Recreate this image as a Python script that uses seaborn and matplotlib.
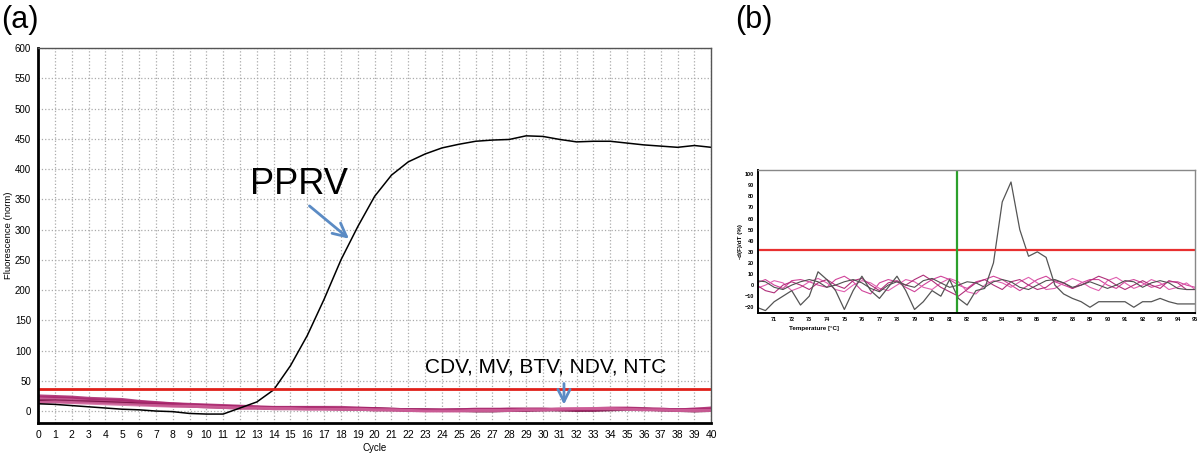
import numpy as np
import pandas as pd
import matplotlib
matplotlib.use("Agg")
import matplotlib.pyplot as plt
from matplotlib.ticker import MultipleLocator
import seaborn as sns

# ---- panel (a): amplification curves ----
cycles = list(range(41))
pprv = [12, 11, 9, 7, 5, 3, 2, 0, -1, -4, -5, -5, 5, 15, 35, 75, 125, 185, 250, 305,
        355, 390, 412, 425, 435, 441, 446, 448, 449, 455, 454, 449, 445, 446, 446, 443,
        440, 438, 436, 439, 436]
neg_names = ["CDV", "MV", "BTV", "NDV", "NTC"]
neg_values = [
    [18, 18, 17, 16, 15, 14, 12, 10, 9, 8, 7, 6, 5, 5, 4, 4, 4, 4, 3, 3, 2, 2, 1, 1, 1, 2, 2, 2, 3, 3, 3, 2, 2, 3, 4, 4, 3, 2, 2, 2, 2],
    [22, 22, 21, 19, 18, 17, 15, 13, 12, 10, 9, 8, 7, 6, 5, 5, 5, 4, 4, 3, 3, 2, 2, 1, 1, 1, 1, 1, 2, 2, 2, 3, 3, 4, 5, 5, 4, 3, 2, 3, 3],
    [16, 16, 15, 15, 14, 13, 12, 11, 10, 9, 8, 7, 6, 6, 5, 5, 5, 5, 4, 4, 4, 3, 2, 2, 1, 1, 0, 0, 1, 1, 2, 2, 1, 1, 2, 3, 3, 2, 1, 0, 1],
    [25, 24, 23, 21, 20, 19, 16, 14, 12, 11, 10, 9, 8, 7, 6, 6, 6, 6, 6, 5, 4, 3, 2, 2, 2, 2, 3, 3, 3, 3, 3, 3, 3, 3, 4, 4, 3, 3, 2, 3, 5],
    [14, 15, 14, 13, 12, 11, 10, 9, 8, 8, 7, 6, 5, 5, 4, 4, 3, 3, 3, 3, 2, 2, 1, 0, 0, 0, 1, 1, 1, 2, 2, 3, 4, 4, 4, 3, 2, 2, 1, 1, 1],
]
neg_colors = ["#8c1450", "#c2508c", "#7a1046", "#a8226a", "#d2669e"]
threshold_a = 37

# ---- panel (b): melt curves ----
temps = np.arange(70.0, 95.01, 0.5)
melt_pos = [-20, -23, -15, -10, -5, -18, -10, 12, 5, -5, -22, -5, 8, -5, -12, -2, 8, -5,
            -22, -15, -5, -10, 5, -12, -18, -5, -3, 20, 75, 93, 50, 26, 30, 25, 0, -8,
            -12, -15, -20, -15, -15, -15, -15, -20, -15, -15, -12, -15, -17, -17, -17]
melt_neg = [
    [2, 5, 0, -3, 4, 5, 3, 0, -2, 5, 8, 3, -5, -8, 2, 5, 3, -2, -6, 0, 5, 8, 5, 0, -3, 3,
     5, 8, 5, 0, -5, 0, 5, 8, 3, 0, -3, 2, 5, 5, 0, -3, 3, 5, 2, -2, 0, 3, 3, 0, -2],
    [-3, 0, 4, 2, -5, -2, 3, 6, 2, -4, -6, 0, 4, 2, -3, -5, 0, 5, 3, -2, -4, 2, 6, 3, -6,
     -8, 0, 4, 2, -2, 3, 7, 2, -4, -3, 2, 6, 3, -2, -5, 4, 7, 2, -3, 0, 5, 2, -4, -2, 2, -4],
    [0, -5, -7, 0, 3, 0, -4, 2, 5, 0, -3, 4, 6, 0, -5, 2, 4, 0, 5, 9, 4, -2, -6, -10, -4,
     2, 5, 0, -4, 3, 5, 0, -4, -2, 4, 2, -3, 0, 4, 8, 5, 0, -4, 0, 4, 0, -3, 4, 2, -4, -4],
    [4, 3, -2, -4, 0, 3, 5, 3, -2, 0, 3, 5, 2, -3, -6, 0, 3, 0, -2, 4, 6, 2, -2, 0, 3, 2,
     -2, 3, 5, 3, -2, -4, 0, 4, 5, 2, -2, 0, 3, 0, -3, 0, 4, 3, -2, 2, 4, 2, -3, -4, -4],
]
melt_neg_colors = ["#d0449a", "#e060b0", "#b0307a", "#505050"]
threshold_b = 32
marker_temp = 81.4

sns.set_style("white")
plt.rcParams["font.family"] = ["Liberation Sans", "DejaVu Sans"]
plt.rcParams["text.color"] = "black"
plt.rcParams["axes.labelcolor"] = "black"
plt.rcParams["xtick.color"] = "black"
plt.rcParams["ytick.color"] = "black"
fig = plt.figure(figsize=(12, 4.54), dpi=100)

# ===== panel (a) =====
ax = fig.add_axes([0.0317, 0.068, 0.561, 0.826])
rows = []
for name, vals in zip(neg_names, neg_values):
    for c, v in zip(cycles, vals):
        rows.append({"Cycle": c, "Fluor": v, "Sample": name})
df_neg = pd.DataFrame(rows)
sns.lineplot(data=df_neg, x="Cycle", y="Fluor", hue="Sample", palette=neg_colors,
             linewidth=2.2, alpha=0.85, legend=False, ax=ax)
sns.lineplot(x=cycles, y=pprv, color="black", linewidth=1.1, ax=ax)
ax.axhline(threshold_a, color="#e0201a", linewidth=2)

ax.set_xlim(0, 40)
ax.set_ylim(-20, 600)
ax.xaxis.set_major_locator(MultipleLocator(1))
ax.xaxis.set_minor_locator(MultipleLocator(0.2))
ax.yaxis.set_major_locator(MultipleLocator(50))
ax.yaxis.set_minor_locator(MultipleLocator(10))
ax.grid(True, which="major", color="#aaaaaa", linestyle=":", linewidth=0.9)
ax.tick_params(axis="x", which="major", labelsize=7.5, length=3, width=0.8,
               direction="out", pad=2)
ax.tick_params(axis="y", which="major", labelsize=7, length=3, width=0.8,
               direction="out", pad=2)
ax.tick_params(axis="both", which="minor", length=2, width=0.6, direction="out")
ax.set_xlabel("Cycle", fontsize=7)
ax.set_ylabel("Fluorescence (norm)", fontsize=6.8)
ax.xaxis.set_label_coords(0.5, -0.052)
ax.yaxis.set_label_coords(-0.037, 0.5)
for side in ["left", "bottom"]:
    ax.spines[side].set_linewidth(2)
    ax.spines[side].set_color("black")
for side in ["top", "right"]:
    ax.spines[side].set_linewidth(1)
    ax.spines[side].set_color("#555555")

ax.text(12.6, 374, "PPRV", fontsize=26, va="center", ha="left")
ax.annotate("", xy=(18.6, 282), xytext=(16.0, 342),
            arrowprops=dict(arrowstyle="->", color="#5b8bc4", lw=2.0, mutation_scale=24))
ax.text(23.0, 72, "CDV, MV, BTV, NDV, NTC", fontsize=15, va="center", ha="left")
ax.annotate("", xy=(31.25, 6), xytext=(31.25, 50),
            arrowprops=dict(arrowstyle="->", color="#5b8bc4", lw=2.0, mutation_scale=22))

fig.text(0.001, 0.955, "(a)", fontsize=22, va="center", ha="left")
fig.text(0.613, 0.955, "(b)", fontsize=22, va="center", ha="left")

# ===== panel (b) =====
bx = fig.add_axes([0.632, 0.311, 0.364, 0.315])
for vals, col in zip(melt_neg, melt_neg_colors):
    sns.lineplot(x=temps, y=vals, color=col, linewidth=0.8, ax=bx)
sns.lineplot(x=temps, y=melt_pos, color="#555555", linewidth=0.9, ax=bx)
bx.axhline(threshold_b, color="#e83030", linewidth=1.6)
bx.axvline(marker_temp, color="#2ca02c", linewidth=1.6)
bx.set_xlim(70.1, 95)
bx.set_ylim(-25, 104)
bx.set_xticks(list(range(71, 96)))
bx.set_yticks(list(range(-20, 101, 10)))
bx.tick_params(axis="both", labelsize=4, length=2, width=0.5, pad=1)
for lbl in bx.get_xticklabels() + bx.get_yticklabels():
    lbl.set_fontweight("bold")
bx.set_xlabel("Temperature [\u00b0C]", fontsize=4.5, fontweight="bold", labelpad=1)
bx.xaxis.set_label_coords(0.07, -0.09)
bx.xaxis.label.set_horizontalalignment("left")
bx.set_ylabel("-d(F)/dT (%)", fontsize=4.5, fontweight="bold", labelpad=1)
for side in ["left", "bottom"]:
    bx.spines[side].set_linewidth(1.4)
    bx.spines[side].set_color("black")
for side in ["top", "right"]:
    bx.spines[side].set_linewidth(1)
    bx.spines[side].set_color("#888888")

fig.savefig("out.png", dpi=100)
